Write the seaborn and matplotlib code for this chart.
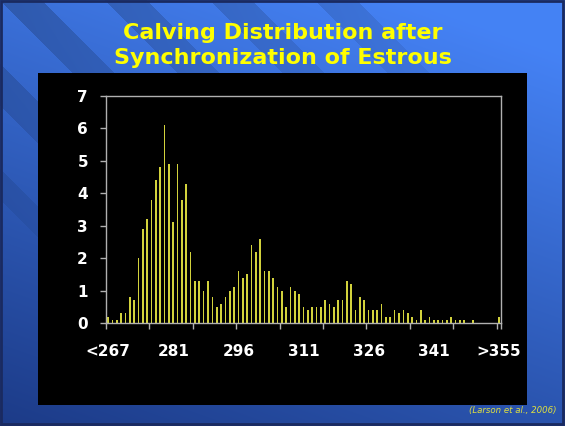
import numpy as np
import pandas as pd
import seaborn as sns
import matplotlib.pyplot as plt
from matplotlib.patches import Rectangle

sns.set_style("dark")

# days: "<267", 267 ... 355, ">355"
days = ["<267"] + [str(d) for d in range(267, 356)] + [">355"]
# percent of calvings per day
pct = [0.2, 0.1, 0.1, 0.3, 0.3, 0.8, 0.7, 2.0, 2.9, 3.2,
       3.8, 4.4, 4.8, 6.1, 4.9, 3.1, 4.9, 3.8, 4.3, 2.2,
       1.3, 1.3, 1.0, 1.3, 0.8, 0.5, 0.6, 0.8, 1.0, 1.1,
       1.6, 1.4, 1.5, 2.4, 2.2, 2.6, 1.6, 1.6, 1.4, 1.1,
       1.0, 0.5, 1.1, 1.0, 0.9, 0.5, 0.4, 0.5, 0.5, 0.5,
       0.7, 0.6, 0.5, 0.7, 0.7, 1.3, 1.2, 0.4, 0.8, 0.7,
       0.4, 0.4, 0.4, 0.6, 0.2, 0.2, 0.4, 0.3, 0.4, 0.3,
       0.2, 0.1, 0.4, 0.1, 0.2, 0.1, 0.1, 0.1, 0.1, 0.2,
       0.1, 0.1, 0.1, 0.0, 0.1, 0.0, 0.0, 0.0, 0.0, 0.0, 0.2]
tick_labels = ["<267", "281", "296", "311", "326", "341", ">355"]

df = pd.DataFrame({"day": days, "pct": pct})

W, H = 565, 426
fig = plt.figure(figsize=(W / 100, H / 100), dpi=100)

# slide background: blue gradient with fading diagonal stripes
bg = fig.add_axes([0, 0, 1, 1], zorder=0)
yy, xx = np.mgrid[0:H, 0:W]
t = np.clip(0.75 * yy / H + 0.35 * (1 - xx / W) - 0.1, 0, 1)
top = np.array([0.27, 0.51, 0.96])
bot = np.array([0.11, 0.23, 0.53])
img = top[None, None, :] * (1 - t[..., None]) + bot[None, None, :] * t[..., None]
d = xx - yy
stripe = ((d % 105) < 42) & (d > -200) & (d < 380)
fade = np.clip(1 - (yy + 0.4 * xx) / 330, 0, 1)
img *= (1 - 0.2 * (stripe * fade))[..., None]
bg.imshow(img, extent=[0, W, H, 0], aspect="auto")
bg.set_xlim(0, W)
bg.set_ylim(H, 0)
bg.axis("off")
bg.add_patch(Rectangle((1, 1), W - 3, H - 3, fill=False, edgecolor="#1a2a60", lw=2))
bg.add_patch(Rectangle((38, 73), 489, 332, facecolor="black", edgecolor="none"))

fig.text(0.5, 0.922, "Calving Distribution after", ha="center", va="center",
         color="#ffff00", fontsize=16, fontweight="bold", family="DejaVu Sans")
fig.text(0.5, 0.864, "Synchronization of Estrous", ha="center", va="center",
         color="#ffff00", fontsize=16, fontweight="bold", family="DejaVu Sans")
fig.text(0.907, 0.037, "(Larson et al., 2006)", ha="center", va="center",
         color="#e0e040", fontsize=6.2, style="italic")

ax = fig.add_axes([106 / W, 1 - 323 / H, 395 / W, 227 / H], zorder=1)
ax.set_facecolor("black")
sns.barplot(data=df, x="day", y="pct", color="#d2d23c", saturation=1,
            width=0.38, linewidth=0, edgecolor="none", ax=ax)
ax.set_xlim(-0.5, 90.5)
ax.set_ylim(0, 7)
ax.set_xlabel("")
ax.set_ylabel("")
ax.grid(False)
for s in ax.spines.values():
    s.set_visible(True)
    s.set_color("#b0b0b0")
    s.set_linewidth(1)

ax.set_yticks(range(8))
ax.set_yticklabels([str(i) for i in range(8)])
ax.tick_params(axis="y", colors="#b0b0b0", length=4, width=1, direction="out",
               labelcolor="white", labelsize=11, pad=9, left=True)
ax.set_xticks([0, 15, 30, 45, 60, 75, 90])
ax.set_xticklabels(tick_labels)
ax.set_xticks([-0.5 + 10 * k for k in range(10)] + [90.5], minor=True)
ax.tick_params(axis="x", which="major", length=0, labelcolor="white",
               labelsize=11, pad=15)
ax.tick_params(axis="x", which="minor", length=4, width=1, color="#b0b0b0",
               direction="out", bottom=True)
for lab in ax.get_xticklabels() + ax.get_yticklabels():
    lab.set_fontweight("bold")

fig.savefig("out.png", dpi=100)
